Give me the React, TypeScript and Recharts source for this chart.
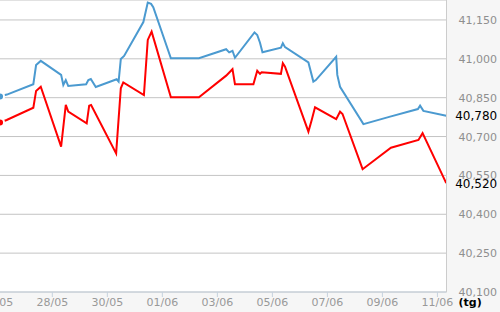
import React from 'react';
import { LineChart, Line, XAxis, YAxis, CartesianGrid, LabelList } from 'recharts';

// days counted from 26/05
const blueDays = [0.1, 0.35, 1.31, 1.41, 1.58, 2.32, 2.4, 2.49, 2.58, 3.23, 3.31, 3.4, 3.58, 4.34, 4.41, 4.49, 4.61, 5.31, 5.47, 5.59, 5.67, 6.31, 7.33, 8.32, 8.43, 8.55, 8.64, 9.35, 9.45, 9.55, 9.64, 10.31, 10.38, 10.46, 11.31, 11.49, 11.58, 12.32, 12.36, 12.46, 13.31, 14.28, 15.29, 15.37, 15.49, 16.32];
const blueValues = [40855, 40862, 40902, 40976, 40992, 40938, 40899, 40918, 40895, 40902, 40918, 40922, 40891, 40921, 40912, 40999, 41011, 41142, 41217, 41212, 41199, 41002, 41002, 41037, 41025, 41031, 41004, 41102, 41092, 41062, 41025, 41043, 41060, 41045, 40986, 40912, 40918, 41008, 40938, 40892, 40748, 40777, 40806, 40819, 40799, 40780];

const redDays = [0.1, 0.34, 1.31, 1.41, 1.58, 2.32, 2.49, 2.58, 3.25, 3.34, 3.41, 4.32, 4.49, 4.58, 5.33, 5.47, 5.61, 6.31, 7.33, 8.32, 8.55, 8.64, 9.31, 9.45, 9.55, 9.61, 10.31, 10.38, 10.46, 11.31, 11.43, 11.55, 12.32, 12.46, 12.55, 13.28, 14.31, 15.31, 15.46, 16.32];
const redValues = [40754, 40764, 40811, 40876, 40892, 40661, 40822, 40796, 40751, 40819, 40822, 40635, 40886, 40909, 40860, 41073, 41105, 40852, 40852, 40935, 40960, 40902, 40902, 40954, 40942, 40948, 40942, 40983, 40970, 40719, 40764, 40813, 40767, 40796, 40787, 40574, 40657, 40687, 40713, 40520];

const tickDays = [0, 2, 4, 6, 8, 10, 12, 14, 16];
const tickLabels = ['26/05', '28/05', '30/05', '01/06', '03/06', '05/06', '07/06', '09/06', '11/06'];
const yTicks = [40100, 40250, 40400, 40550, 40700, 40850, 41000, 41150];

const blueData = blueDays.map((t, i) => ({ t, v: blueValues[i] }));
const redData = redDays.map((t, i) => ({ t, v: redValues[i] }));

const fmt = (v: number) => v.toLocaleString('en-US');
const FONT = 'DejaVu Sans, sans-serif';

const makeLastLabel = (len: number) => (props: any) => {
  const { x, y, index, value } = props;
  if (index !== len - 1) return <g />;
  return (
    <text x={Number(x) + 9} y={Number(y)} dy="0.36em" fill="#000" fontSize={12} fontFamily={FONT} textAnchor="start">
      {fmt(Number(value))}
    </text>
  );
};

const YTick = (props: any) => {
  const { x, y, payload } = props;
  return (
    <text x={Number(x) + 4} y={Number(y)} dy="0.36em" fill="#8f8f8f" fontSize={11} fontFamily={FONT} textAnchor="start">
      {fmt(payload.value)}
    </text>
  );
};

export default function App() {
  return (
    <div style={{ position: 'absolute', left: 0, top: 0, width: 500, height: 312, background: '#f6f6f6' }}>
      <LineChart width={500} height={312} margin={{ top: 0, right: 0, bottom: 0, left: -2.7 }}>
        <CartesianGrid vertical={false} stroke="#c4c4c4" fill="#ffffff" />
        <XAxis
          type="number"
          dataKey="t"
          domain={[0, 16.33]}
          ticks={tickDays}
          interval={0}
          tickFormatter={(d: number) => tickLabels[tickDays.indexOf(d)] ?? ''}
          height={20}
          stroke="#c6d2de"
          tickSize={5}
          tickMargin={1}
          tick={{ fill: '#999999', fontSize: 11, fontFamily: FONT }}
          label={{ value: '(tg)', position: 'right', offset: 12, fill: '#000', fontWeight: 'bold', fontSize: 11, fontFamily: FONT }}
        />
        <YAxis
          orientation="right"
          type="number"
          domain={[40100, 41227]}
          ticks={yTicks}
          interval={0}
          width={53.5}
          stroke="#cccccc"
          tickLine={false}
          tick={<YTick />}
        />
        <Line data={blueData} dataKey="v" type="linear" stroke="#4b9ad0" strokeWidth={2} dot={false} isAnimationActive={false}>
          <LabelList dataKey="v" content={makeLastLabel(blueData.length)} />
        </Line>
        <Line data={redData} dataKey="v" type="linear" stroke="#ff0000" strokeWidth={2} dot={false} isAnimationActive={false}>
          <LabelList dataKey="v" content={makeLastLabel(redData.length)} />
        </Line>
      </LineChart>
    </div>
  );
}
